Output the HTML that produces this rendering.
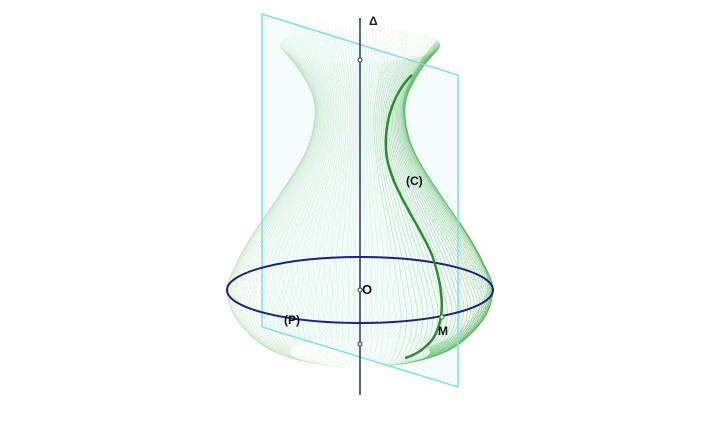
<!DOCTYPE html>
<html><head><meta charset="utf-8"><style>
html,body{margin:0;padding:0;background:#fff;}
svg{display:block;}
text{font-family:"Liberation Sans",sans-serif;font-weight:bold;}
</style></head><body>
<svg id="fig" width="720" height="437" viewBox="0 0 720 437">
<rect x="0" y="0" width="720" height="437" fill="#fff"/>
<g id="surf"></g>
<polygon points="262,14 458,75 458,387 262,327" fill="#bff3ee" fill-opacity="0.15" stroke="#7fe3da" stroke-width="1.5"/>
<line x1="360" y1="18" x2="360" y2="395" stroke="#2a3350" stroke-width="1.5"/>
<text x="369" y="25" font-size="12" fill="#222">Δ</text>
<ellipse cx="360" cy="290" rx="133" ry="33" fill="none" stroke="#1a237e" stroke-width="2"/>
<path d="M412,75 C398,88 384,115 386,150 C388,185 420,225 432,255 C444,290 446,320 432,340 C422,352 412,356 405,358" fill="none" stroke="#2e8b2e" stroke-width="2.5"/>
<circle cx="360" cy="60" r="2" fill="#fff" stroke="#2a3350"/>
<circle cx="360" cy="290" r="2" fill="#fff" stroke="#2a3350"/>
<circle cx="360" cy="344" r="2" fill="#fff" stroke="#2a3350"/>
<circle cx="442" cy="317" r="2" fill="#fff" stroke="#2e8b2e"/>
<text x="362" y="294" font-size="13" fill="#111">O</text>
<text x="406" y="185" font-size="12" fill="#111">(C)</text>
<text x="284" y="324" font-size="12" fill="#111">(P)</text>
<text x="438" y="335" font-size="12" fill="#111">M</text>
</svg>
<script>
const profileY = [45, 70, 100, 130, 160, 200, 240, 270, 290, 315, 340, 352];
const profileR = [80, 60, 46, 47, 58, 83, 110, 126, 133, 125, 100, 70];
const g = document.getElementById('surf');
const N = 140;
function cr(p0, p1, p2, p3, t) {
  const t2 = t * t, t3 = t2 * t;
  return 0.5 * ((2 * p1) + (-p0 + p2) * t + (2 * p0 - 5 * p1 + 4 * p2 - p3) * t2 + (-p0 + 3 * p1 - 3 * p2 + p3) * t3);
}
for (let i = 0; i < N; i++) {
  const th = (i / N) * 2 * Math.PI;
  const s = Math.sin(th), c = Math.cos(th);
  let pts = [];
  const n = profileY.length;
  for (let k = 0; k < n - 1; k++) {
    const a = Math.max(k - 1, 0), b = Math.min(k + 2, n - 1);
    for (let j = 0; j < 8; j++) {
      const t = j / 8;
      const y = cr(profileY[a], profileY[k], profileY[k + 1], profileY[b], t);
      const r = cr(profileR[a], profileR[k], profileR[k + 1], profileR[b], t);
      pts.push((360 + r * s).toFixed(1) + ',' + (y + 0.22 * r * c).toFixed(1));
    }
  }
  pts.push((360 + profileR[n - 1] * s).toFixed(1) + ',' + (profileY[n - 1] + 0.22 * profileR[n - 1] * c).toFixed(1));
  const pl = document.createElementNS('http://www.w3.org/2000/svg', 'polyline');
  pl.setAttribute('points', pts.join(' '));
  pl.setAttribute('fill', 'none');
  const green = s > 0.3 && c > -0.3;
  pl.setAttribute('stroke', green ? '#4caf50' : '#a8d8a8');
  pl.setAttribute('stroke-opacity', green ? (0.2 + 0.35 * s).toFixed(2) : '0.25');
  pl.setAttribute('stroke-width', '0.7');
  
  
  g.appendChild(pl);
}
</script>
</body></html>
